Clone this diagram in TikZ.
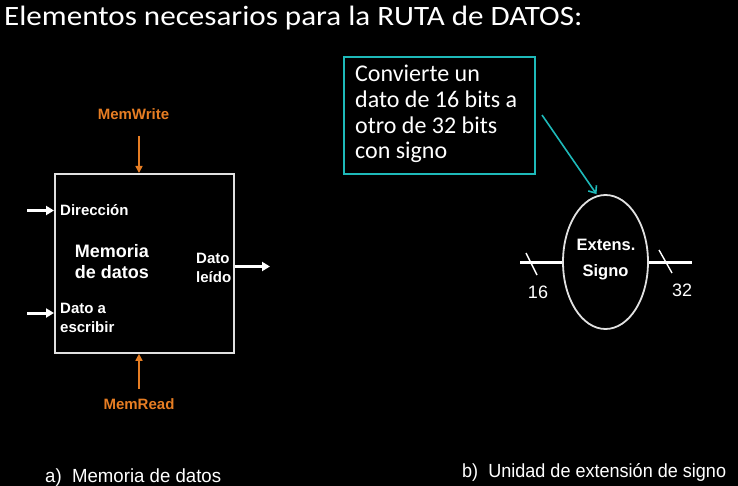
\documentclass[tikz,border=0pt]{standalone}
\usepackage{graphicx}
\usepackage{fontspec}
\setmainfont{Liberation Sans}
\newfontfamily\calib{Carlito}
\usetikzlibrary{shapes.geometric,arrows.meta}
\definecolor{memorange}{RGB}{230,125,35}
\definecolor{callteal}{RGB}{30,185,185}
\definecolor{boxline}{RGB}{225,225,225}
\begin{document}
\begin{tikzpicture}[x=1pt,y=-1pt,
  lbl/.style={text=white, inner sep=0, font=\fontsize{15}{17}\selectfont\bfseries},
  biglbl/.style={text=white, inner sep=0, font=\fontsize{18}{21}\selectfont\bfseries},
  numlbl/.style={text=white, inner sep=0, font=\fontsize{18}{21}\selectfont},
  caplbl/.style={text=white, inner sep=0, font=\fontsize{19}{22}\selectfont},
  warrow/.style={draw=white, line width=3pt, -{Triangle[length=8pt,width=9pt]}},
  oarrow/.style={draw=memorange, line width=1.6pt, -{Triangle[length=7pt,width=7pt]}},
  tarrow/.style={draw=callteal, line width=1.6pt, -{Straight Barb[length=6pt,width=10pt]}},
  busline/.style={draw=white, line width=3pt},
  slashline/.style={draw=white, line width=1.4pt}
]
\fill[black] (0,0) rectangle (738,486);
\useasboundingbox (0,0) rectangle (738,486);

% title
\node[anchor=base west, inner sep=0, text=white, font=\calib\fontsize{28}{32}\selectfont] (title) at (4,26) {\scalebox{1.11}[1]{Elementos necesarios para la RUTA de DATOS:}};

% memory block
\node[draw=boxline, line width=1.8pt, minimum width=179, minimum height=179, inner sep=0, anchor=north west] (mem) at (54,173) {};

\node[lbl, text=memorange, anchor=base] (mw) at (133.5,120) {MemWrite};
\coordinate (mwS) at (139,136);
\draw[oarrow] (mwS) -- (mwS |- mem.north);

\node[lbl, text=memorange, anchor=base] (mr) at (139,409) {MemRead};
\coordinate (mrS) at (139,389);
\draw[oarrow] (mrS) -- (mrS |- mem.south);

\coordinate (dirS) at (27,210.5);
\draw[warrow] (dirS) -- (dirS -| mem.west);
\node[lbl, anchor=base west] (dir) at (60,215) {Dirección};

\node[biglbl, anchor=base] (memA) at (112,257) {Memoria};
\node[biglbl, anchor=base] (memB) at (112,278) {de datos};

\node[lbl, anchor=base west] (leidoA) at (196,263) {Dato};
\node[lbl, anchor=base west] (leidoB) at (196,282) {leído};
\coordinate (outE) at (270,266.5);
\draw[warrow] (outE -| mem.east) -- (outE);

\coordinate (escS) at (27,313);
\draw[warrow] (escS) -- (escS -| mem.west);
\node[lbl, anchor=base west] (escA) at (60,313) {Dato a};
\node[lbl, anchor=base west] (escB) at (60,332) {escribir};

% callout
\node[draw=callteal, line width=1.6pt, anchor=north west, minimum width=191, minimum height=117, inner sep=0] (call) at (343,56) {};
\node[anchor=north west, inner sep=0, text=white, align=left, font=\calib\fontsize{24}{25.7}\selectfont] (calltxt) at (355,65) {Convierte un\\dato de 16 bits a\\otro de 32 bits\\con signo};

% sign extension
\node[ellipse, draw=boxline, line width=1.8pt, minimum width=85, minimum height=134, inner sep=0] (ext) at (605.5,262) {};
\node[lbl, font=\fontsize{16.5}{19}\selectfont\bfseries, anchor=base] (extA) at (606,251) {Extens.};
\node[lbl, font=\fontsize{16.5}{19}\selectfont\bfseries, anchor=base] (extB) at (605.5,276) {Signo};

\coordinate (inL) at (520,262);
\coordinate (outR) at (692,262);
\draw[busline] (inL) -- (ext.west);
\draw[busline] (ext.east) -- (outR);
\coordinate (s1a) at (526,253); \coordinate (s1b) at (537,275);
\coordinate (s2a) at (659,250); \coordinate (s2b) at (672,273);
\draw[slashline] (s1a) -- (s1b);
\draw[slashline] (s2a) -- (s2b);
\node[numlbl, anchor=base] (n16) at (538,298) {16};
\node[numlbl, anchor=base] (n32) at (682,296) {32};

\coordinate (tS) at (542,115);
\draw[tarrow, shorten >=1.5pt] (tS) -- (ext.97);

% captions
\node[caplbl, anchor=base west] (capa) at (45,482) {\scalebox{0.98}[1]{a)\ \ Memoria de datos}};
\node[caplbl, anchor=base west] (capb) at (462,477) {\scalebox{0.95}[1]{b)\ \ Unidad de extensión de signo}};
\end{tikzpicture}
\end{document}
